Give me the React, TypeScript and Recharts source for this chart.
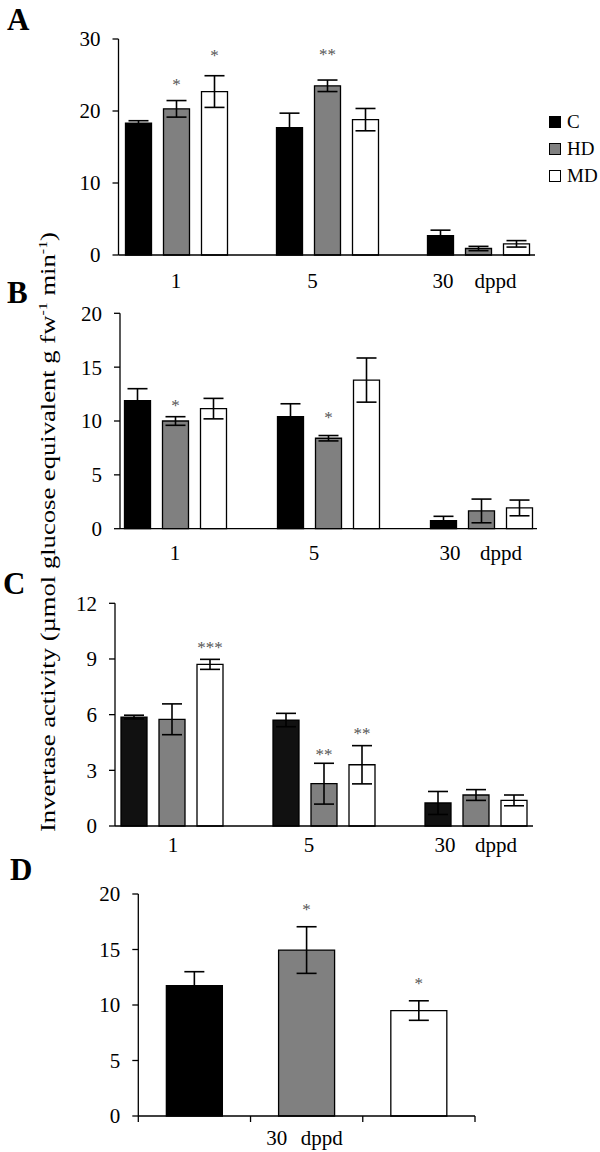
import React from 'react';
import { BarChart, Bar, XAxis, YAxis, ErrorBar, LabelList, Legend, Cell } from 'recharts';

const FONT = '"Liberation Serif", "Times New Roman", Times, serif';

// ---- shared categories ----
const DAYS = ['1', '5', '30'];
const UNIT = 'dppd';
const TREATMENTS = ['C', 'HD', 'MD'];
const COLORS = { C: '#000000', HD: '#808080', MD: '#ffffff' };

// ---- Panel A ----
const A_C = [18.3, 17.7, 2.7];
const A_C_ERR = [0.35, 2.0, 0.75];
const A_HD = [20.3, 23.5, 0.9];
const A_HD_ERR = [1.15, 0.8, 0.3];
const A_MD = [22.7, 18.8, 1.55];
const A_MD_ERR = [2.2, 1.55, 0.45];
const A_HD_STAR = ['*', '**', ''];
const A_HD_STAR_AT = [24.0, 28.2, 0];
const A_MD_STAR = ['*', '', ''];
const A_MD_STAR_AT = [28.1, 0, 0];
const A_TICKS = [0, 10, 20, 30];

// ---- Panel B ----
const B_C = [11.9, 10.4, 0.75];
const B_C_ERR = [1.1, 1.2, 0.4];
const B_HD = [10.0, 8.4, 1.65];
const B_HD_ERR = [0.4, 0.25, 1.1];
const B_MD = [11.15, 13.8, 1.93];
const B_MD_ERR = [0.95, 2.05, 0.73];
const B_HD_STAR = ['*', '*', ''];
const B_HD_STAR_AT = [11.7, 10.56, 0];
const B_MD_STAR = ['', '', ''];
const B_MD_STAR_AT = [0, 0, 0];
const B_TICKS = [0, 5, 10, 15, 20];

// ---- Panel C ----
const C_C = [5.87, 5.71, 1.24];
const C_C_ERR = [0.1, 0.36, 0.62];
const C_HD = [5.75, 2.28, 1.67];
const C_HD_ERR = [0.83, 1.1, 0.29];
const C_MD = [8.71, 3.3, 1.38];
const C_MD_ERR = [0.27, 1.03, 0.29];
const C_HD_STAR = ['', '**', ''];
const C_HD_STAR_AT = [0, 4.0, 0];
const C_MD_STAR = ['***', '**', ''];
const C_MD_STAR_AT = [9.75, 5.12, 0];
const C_TICKS = [0, 3, 6, 9, 12];

// ---- Panel D (30 dppd only) ----
const D_VAL = [11.74, 14.95, 9.5];
const D_ERR = [1.26, 2.1, 0.88];
const D_STAR = ['', '*', '*'];
const D_STAR_AT = [0, 18.86, 12.16];
const D_TICKS = [0, 5, 10, 15, 20];
const D_DAY = '30';

const Y_LABEL_MAIN = 'Invertase activity (µmol glucose equivalent g fw';
const Y_LABEL_MID = ' min';
const Y_LABEL_SUP = '-1';

function buildRows(c, ce, hd, hde, md, mde, hdStar, hdAt, mdStar, mdAt) {
  return DAYS.map((d, i) => ({
    day: d,
    C: c[i], C_err: ce[i], C_star: '', C_starAt: 0,
    HD: hd[i], HD_err: hde[i], HD_star: hdStar[i], HD_starAt: hdAt[i],
    MD: md[i], MD_err: mde[i], MD_star: mdStar[i], MD_starAt: mdAt[i],
  }));
}

const rowsA = buildRows(A_C, A_C_ERR, A_HD, A_HD_ERR, A_MD, A_MD_ERR, A_HD_STAR, A_HD_STAR_AT, A_MD_STAR, A_MD_STAR_AT);
const rowsB = buildRows(B_C, B_C_ERR, B_HD, B_HD_ERR, B_MD, B_MD_ERR, B_HD_STAR, B_HD_STAR_AT, B_MD_STAR, B_MD_STAR_AT);
const rowsC = buildRows(C_C, C_C_ERR, C_HD, C_HD_ERR, C_MD, C_MD_ERR, C_HD_STAR, C_HD_STAR_AT, C_MD_STAR, C_MD_STAR_AT);
const rowsD = TREATMENTS.map((t, i) => ({ name: t, v: D_VAL[i], v_err: D_ERR[i], v_star: D_STAR[i], v_starAt: D_STAR_AT[i] }));

const starRenderer = (rows, key) => (props) => {
  const vb = props.viewBox && props.viewBox.width != null ? props.viewBox : props;
  const { x, y, width, height } = vb;
  const idx = props.index;
  const row = rows[idx];
  if (!row) return null;
  const txt = row[key + '_star'];
  if (!txt) return null;
  const v = row[key];
  const ppu = height / v;
  const cy = y + height - row[key + '_starAt'] * ppu;
  return (
    <text x={x + width / 2} y={cy + 8} textAnchor="middle" fontSize={17} fill="#555" fontFamily={FONT}>
      {txt}
    </text>
  );
};

const dayTick = (cfg) => (p) => {
  const { x, y, index } = p;
  const val = DAYS[index];
  const dx = cfg.dxs[index];
  return (
    <g>
      <text x={x + dx} y={y + cfg.dy} textAnchor="middle" fontSize={21} fontFamily={FONT} fill="#000">{val}</text>
      {index === DAYS.length - 1 ? (
        <text x={x + cfg.unitDx} y={y + cfg.dy} textAnchor="middle" fontSize={21} fontFamily={FONT} fill="#000">{UNIT}</text>
      ) : null}
    </g>
  );
};

const LegendContent = (props) => {
  const payload = props.payload || [];
  return (
    <div style={{ fontFamily: FONT, fontSize: 19, color: '#000' }}>
      {payload.map((p) => (
        <div key={p.value} style={{ display: 'flex', alignItems: 'center', height: 27 }}>
          <span style={{ display: 'inline-block', width: 10, height: 10, background: COLORS[p.value], border: '1.3px solid #000', marginRight: 6 }} />
          <span>{p.value}</span>
        </div>
      ))}
    </div>
  );
};

const axisStroke = { stroke: '#000', strokeWidth: 1.3 };
const yTickStyle = { fill: '#000', fontSize: 21, fontFamily: FONT };

function GroupPanel({ rows, ticks, top, height, margin, xAxisHeight, padding, tickCfg, cFill, legend }) {
  return (
    <div style={{ position: 'absolute', left: 0, top }}>
      <BarChart width={600} height={height} data={rows} margin={margin} barGap={12}>
        <XAxis
          dataKey="day"
          axisLine={axisStroke}
          tickLine={false}
          tickSize={0}
          tickMargin={0}
          height={xAxisHeight}
          padding={padding}
          interval={0}
          tick={dayTick(tickCfg)}
        />
        <YAxis
          domain={[ticks[0], ticks[ticks.length - 1]]}
          ticks={ticks}
          interval={0}
          width={60}
          axisLine={axisStroke}
          tickLine={axisStroke}
          tickSize={6}
          tickMargin={12}
          tick={yTickStyle}
        />
        {legend ? (
          <Legend
            layout="vertical"
            align="center"
            verticalAlign="middle"
            content={LegendContent}
            wrapperStyle={{ left: 549, top: 108, width: 60, height: 'auto' }}
          />
        ) : null}
        {TREATMENTS.map((t) => (
          <Bar
            key={t}
            dataKey={t}
            name={t}
            fill={t === 'C' ? cFill : COLORS[t]}
            stroke="#000"
            strokeWidth={1.3}
            barSize={26}
            isAnimationActive={false}
          >
            <ErrorBar dataKey={t + '_err'} width={10} stroke="#000" strokeWidth={1.6} />
            <LabelList dataKey={t + '_star'} content={starRenderer(rows, t)} />
          </Bar>
        ))}
      </BarChart>
    </div>
  );
}

const dTick = (p) => {
  const { x, y, index, payload } = p;
  const half = payload && payload.offset ? payload.offset : 56;
  return (
    <g>
      <line x1={x - half} x2={x - half} y1={y} y2={y + 6} stroke="#000" strokeWidth={1.3} />
      {index === TREATMENTS.length - 1 ? (
        <line x1={x + half} x2={x + half} y1={y} y2={y + 6} stroke="#000" strokeWidth={1.3} />
      ) : null}
      {index === 1 ? (
        <g>
          <text x={x - 30} y={y + 29} textAnchor="middle" fontSize={21} fontFamily={FONT} fill="#000">{D_DAY}</text>
          <text x={x + 15} y={y + 29} textAnchor="middle" fontSize={21} fontFamily={FONT} fill="#000">{UNIT}</text>
        </g>
      ) : null}
    </g>
  );
};

function PanelD() {
  return (
    <div style={{ position: 'absolute', left: 0, top: 860 }}>
      <BarChart width={600} height={292} data={rowsD} margin={{ top: 34, right: 125, bottom: 6, left: 78.3 }} barCategoryGap="25%">
        <XAxis dataKey="name" axisLine={axisStroke} tickLine={false} tickSize={0} tickMargin={0} height={30} interval={0} tick={dTick} />
        <YAxis
          domain={[0, 20]}
          ticks={D_TICKS}
          interval={0}
          width={60}
          axisLine={axisStroke}
          tickLine={axisStroke}
          tickSize={6}
          tickMargin={12}
          tick={yTickStyle}
        />
        <Bar dataKey="v" stroke="#000" strokeWidth={1.3} isAnimationActive={false}>
          {rowsD.map((r) => (
            <Cell key={r.name} fill={COLORS[r.name]} />
          ))}
          <ErrorBar dataKey="v_err" width={10} stroke="#000" strokeWidth={1.6} />
          <LabelList dataKey="v_star" content={starRenderer(rowsD, 'v')} />
        </Bar>
      </BarChart>
    </div>
  );
}

export default function App() {
  return (
    <div style={{ position: 'absolute', left: 0, top: 0, width: 600, height: 1152, background: '#fff', overflow: 'hidden' }}>
      <GroupPanel
        rows={rowsA}
        ticks={A_TICKS}
        top={0}
        height={305}
        margin={{ top: 39, right: 65, bottom: 20, left: 58.5 }}
        xAxisHeight={30}
        padding={{ left: -18, right: -18.5 }}
        tickCfg={{ dxs: [0, -14.5, -35], unitDx: 17.5, dy: 33 }}
        cFill="#000"
        legend
      />
      <GroupPanel
        rows={rowsB}
        ticks={B_TICKS}
        top={290}
        height={300}
        margin={{ top: 23.3, right: 63, bottom: 21.3, left: 60 }}
        xAxisHeight={40}
        padding={{ left: -21.5, right: -20.5 }}
        tickCfg={{ dxs: [0, -14, -31], unitDx: 20, dy: 31 }}
        cFill="#000"
      />
      <GroupPanel
        rows={rowsC}
        ticks={C_TICKS}
        top={580}
        height={290}
        margin={{ top: 23.3, right: 67, bottom: 14, left: 55 }}
        xAxisHeight={30}
        padding={{ left: -19, right: -19 }}
        tickCfg={{ dxs: [1, -15, -31], unitDx: 20, dy: 26 }}
        cFill="#111"
      />
      <PanelD />
      <svg width={600} height={1152} style={{ position: 'absolute', left: 0, top: 0, pointerEvents: 'none' }}>
        <g fontFamily={FONT} fontWeight="bold" fontSize={31} fill="#000">
          <text x={7} y={30}>A</text>
          <text x={7} y={303}>B</text>
          <text x={3} y={594}>C</text>
          <text x={10} y={880}>D</text>
        </g>
        <text
          transform="translate(55,532) rotate(-90)"
          textAnchor="middle"
          fontFamily={FONT}
          fontSize={20}
          fill="#000"
          textLength={600}
          lengthAdjust="spacingAndGlyphs"
        >
          {Y_LABEL_MAIN}
          <tspan dy={-8} fontSize={12}>{Y_LABEL_SUP}</tspan>
          <tspan dy={8} fontSize={20}>{Y_LABEL_MID}</tspan>
          <tspan dy={-8} fontSize={12}>{Y_LABEL_SUP}</tspan>
          <tspan dy={8} fontSize={20}>)</tspan>
        </text>
      </svg>
    </div>
  );
}
